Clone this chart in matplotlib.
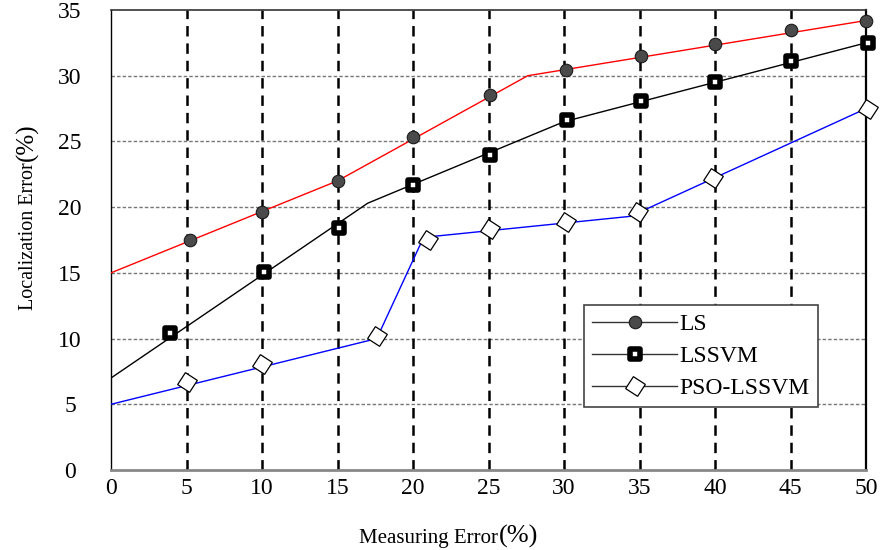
import matplotlib
matplotlib.use("Agg")
import matplotlib.pyplot as plt
from matplotlib.lines import Line2D
from matplotlib.markers import MarkerStyle

plt.rcParams['font.family'] = ['Liberation Serif', 'DejaVu Serif']
plt.rcParams['lines.scale_dashes'] = False

# ---- data ----
x_ticks = [0, 5, 10, 15, 20, 25, 30, 35, 40, 45, 50]
y_ticks = [0, 5, 10, 15, 20, 25, 30, 35]
v_grid = [5, 10, 15, 20, 25, 30, 35, 40, 45]
h_grid = [5, 10, 15, 20, 25, 30]

ls_x = [5.2, 10.0, 15.0, 20.0, 25.1, 30.1, 35.1, 40.0, 45.0, 50.0]
ls_y = [17.5, 19.6, 22.0, 25.3, 28.5, 30.4, 31.5, 32.4, 33.5, 34.2]
ls_fit_x = [0, 15.0, 27.6, 50]
ls_fit_y = [15.0, 22.0, 30.0, 34.2]

lssvm_x = [3.9, 10.1, 15.1, 20.0, 25.1, 30.2, 35.1, 40.0, 45.0, 50.1]
lssvm_y = [10.4, 15.1, 18.4, 21.7, 24.0, 26.6, 28.1, 29.5, 31.1, 32.5]
lssvm_fit_x = [0, 17.0, 30.0, 50]
lssvm_fit_y = [7.0, 20.3, 26.5, 32.5]

pso_x = [5.0, 10.0, 17.6, 21.0, 25.1, 30.1, 34.9, 39.9, 50.1]
pso_y = [6.7, 8.1, 10.2, 17.5, 18.3, 18.9, 19.6, 22.2, 27.5]
pso_fit_x = [0, 17.6, 20.7, 34.4, 50]
pso_fit_y = [5.0, 10.0, 17.7, 19.3, 27.5]

labels = ["LS", "LSSVM", "PSO-LSSVM"]

# ---- figure ----
fig = plt.figure(figsize=(8.82, 5.5), dpi=100)
ax = fig.add_axes([111/882, 1-470/550, 755/882, 460/550])
ax.set_xlim(0, 50)
ax.set_ylim(0, 35)

for yv in h_grid:
    ax.axhline(yv, color='#777777', lw=1.0, dashes=(2.5, 1.5), zorder=1)
for xv in v_grid:
    ax.axvline(xv, color='black', lw=1.8, dashes=(7.5, 5.0), zorder=1)

ax.plot(ls_fit_x, ls_fit_y, color='#ff0000', lw=1.0, zorder=3)
ax.plot(lssvm_fit_x, lssvm_fit_y, color='black', lw=1.0, zorder=3)
ax.plot(pso_fit_x, pso_fit_y, color='#0000ff', lw=1.0, zorder=3)

ls_mk = dict(marker='o', ms=9, mfc='#4a4a4a', mec='#1a1a1a', mew=0.8)
lssvm_mk = dict(marker=MarkerStyle('s', joinstyle='round'), ms=7.5, mfc='white',
                mec='black', mew=4.0)
pso_mk = dict(marker=(4, 0, 12), ms=14.5, mfc='white', mec='black', mew=0.9)

ax.plot(ls_x, ls_y, ls='none', zorder=5, clip_on=False, **ls_mk)
ax.plot(lssvm_x, lssvm_y, ls='none', zorder=5, clip_on=False, **lssvm_mk)
ax.plot(pso_x, pso_y, ls='none', zorder=5, clip_on=False, **pso_mk)

ax.set_xticks(x_ticks)
ax.set_yticks(y_ticks)
ax.set_xticklabels([str(v) for v in x_ticks], fontsize=17)
ax.set_yticklabels([str(v) for v in y_ticks], fontsize=17, ha='center')
ax.tick_params(axis='x', length=0, pad=6)
ax.tick_params(axis='y', length=0, pad=29.5)

ax.spines['top'].set_color('#333333')
ax.spines['top'].set_linewidth(1.2)
ax.spines['left'].set_color('black')
ax.spines['left'].set_linewidth(1.0)
ax.spines['right'].set_color('black')
ax.spines['right'].set_linewidth(1.6)
ax.spines['bottom'].set_color('#888888')
ax.spines['bottom'].set_linewidth(2.0)

handles = [
    Line2D([], [], color='#333333', lw=1.0, **ls_mk),
    Line2D([], [], color='#333333', lw=1.0, **lssvm_mk),
    Line2D([], [], color='#333333', lw=1.0, **pso_mk),
]
leg = ax.legend(handles, labels, loc='upper left', bbox_to_anchor=(0.6265, 0.3587),
                borderaxespad=0, fontsize=17, frameon=True, fancybox=False,
                handlelength=3.6, handletextpad=0.1, labelspacing=0.45,
                borderpad=0.35, framealpha=1)
leg.get_frame().set_edgecolor('#444444')
leg.get_frame().set_linewidth(1.2)
leg.set_zorder(10)

# y label: "Localization Error" + larger "(%)"
fig.text(33/882, 1-162/550, "Localization Error", rotation=90, rotation_mode='anchor',
         ha='right', va='baseline', fontsize=14.5)
fig.text(33/882, 1-161/550, "(%)", rotation=90, rotation_mode='anchor',
         ha='left', va='baseline', fontsize=18)

# x label: "Measuring Error" + larger "(%)"
fig.text(498/882, 1-543/550, "Measuring Error", ha='right', va='baseline', fontsize=15)
fig.text(499/882, 1-543/550, "(%)", ha='left', va='baseline', fontsize=19)

fig.savefig("out.png", dpi=100)
